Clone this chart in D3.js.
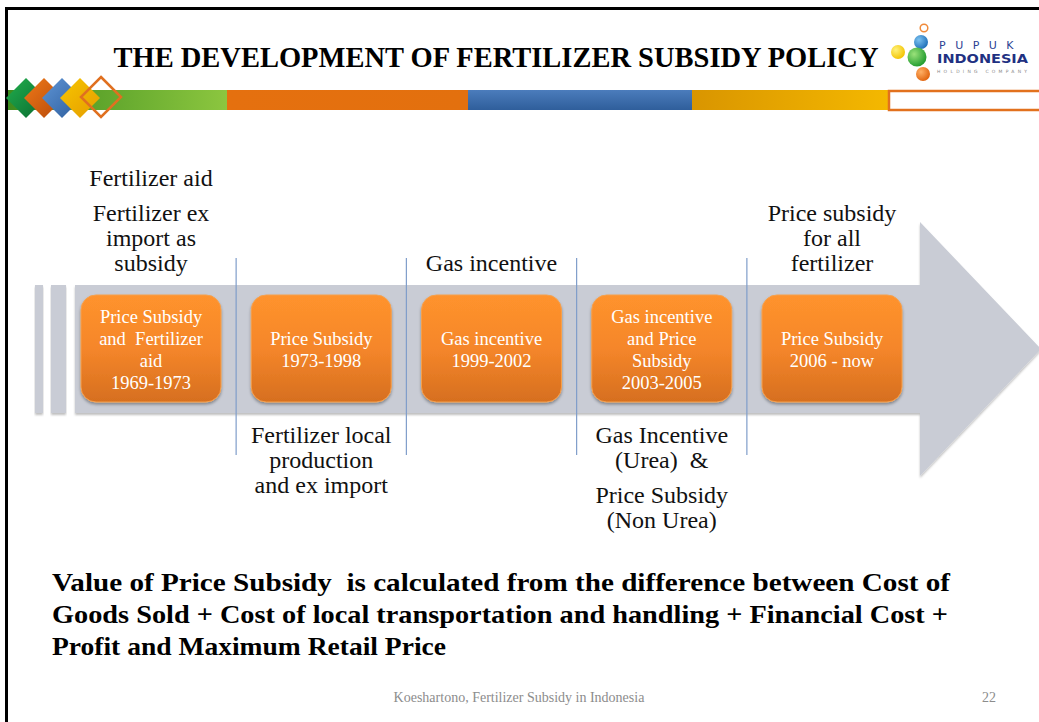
<!DOCTYPE html>
<html>
<head>
<meta charset="utf-8">
<script src="https://cdn.jsdelivr.net/npm/d3@7"></script>
<style>
  body { margin: 0; background: #fff; }
  svg { display: block; }
  text { white-space: pre; }
</style>
</head>
<body>
<div id="slide"></div>
<script>
// ---- content ----
const title = "THE DEVELOPMENT OF FERTILIZER SUBSIDY POLICY";

// one entry per period box, each an array of text lines
const periodLabels = [
  ["Price Subsidy", "and  Fertilizer", "aid", "1969-1973"],
  ["Price Subsidy", "1973-1998"],
  ["Gas incentive", "1999-2002"],
  ["Gas incentive", "and Price", "Subsidy", "2003-2005"],
  ["Price Subsidy", "2006 - now"]
];

// notes above / below each period: paragraphs of lines
const notesAbove = [
  [["Fertilizer aid"], ["Fertilizer ex", "import as", "subsidy"]],
  null,
  [["Gas incentive"]],
  null,
  [["Price subsidy", "for all", "fertilizer"]]
];
const notesBelow = [
  null,
  [["Fertilizer local", "production", "and ex import"]],
  null,
  [["Gas Incentive", "(Urea)  &"], ["Price Subsidy", "(Non Urea)"]],
  null
];

const summaryLines = [
  "Value of Price Subsidy  is calculated from the difference between Cost of",
  "Goods Sold + Cost of local transportation and handling + Financial Cost +",
  "Profit and Maximum Retail Price"
];
const footerText = "Koeshartono, Fertilizer Subsidy in Indonesia";
const pageNumber = "22";

// header decoration
const bandSegments = ["green", "orange", "blue", "yellow"];
const diamondKeys = ["green", "orange", "blue", "yellow"];

// ---- drawing ----
const width = 1039, height = 722;
const serif = "'Liberation Serif', 'DejaVu Serif', serif";

const svg = d3.select("#slide").append("svg")
  .attr("width", width)
  .attr("height", height)
  .attr("font-family", serif);

const defs = svg.append("defs");

function linGrad(id, stops, x2, y2) {
  const g = defs.append("linearGradient").attr("id", id)
    .attr("x1", 0).attr("y1", 0).attr("x2", x2).attr("y2", y2);
  stops.forEach((c, i) => g.append("stop")
    .attr("offset", i / (stops.length - 1)).attr("stop-color", c));
}
linGrad("g-green", ["#3f8d1e", "#8cc63f"], 1, 0);
linGrad("g-orange", ["#e5700f", "#e3700e"], 1, 0);
linGrad("g-blue", ["#4b7cbc", "#2f5e9b"], 0, 1);
linGrad("g-yellow", ["#d99500", "#f4b800"], 1, 0);
linGrad("d-green", ["#22b04e", "#0a6a30"], 1, 1);
linGrad("d-orange", ["#f07a18", "#b6480a"], 1, 1);
linGrad("d-blue", ["#5f95d6", "#2d5d9c"], 1, 1);
linGrad("d-yellow", ["#f7c600", "#e59c00"], 1, 1);
linGrad("box-fill", ["#ff932d", "#f5862a", "#d66f1f"], 0, 1);

function radial(id, light, dark) {
  const g = defs.append("radialGradient").attr("id", id)
    .attr("cx", "35%").attr("cy", "35%").attr("r", "70%");
  g.append("stop").attr("offset", 0).attr("stop-color", light);
  g.append("stop").attr("offset", 1).attr("stop-color", dark);
}
radial("l-yellow", "#fff27a", "#f2c200");
radial("l-blue", "#7cc2f0", "#1e6fb8");
radial("l-green", "#9be27a", "#1f9a2e");
radial("l-orange", "#ffb066", "#e0620c");

const shadow = defs.append("filter").attr("id", "shadow")
  .attr("x", "-10%").attr("y", "-10%").attr("width", "130%").attr("height", "130%");
shadow.append("feDropShadow").attr("dx", 0).attr("dy", 2)
  .attr("stdDeviation", 1.6).attr("flood-color", "#000").attr("flood-opacity", 0.35);

const arrowShadow = defs.append("filter").attr("id", "arrow-shadow")
  .attr("x", "-5%").attr("y", "-5%").attr("width", "110%").attr("height", "115%");
arrowShadow.append("feDropShadow").attr("dx", 0).attr("dy", 2)
  .attr("stdDeviation", 1).attr("flood-color", "#000").attr("flood-opacity", 0.25);

// slide frame
svg.append("path")
  .attr("d", `M6.5,${height} V8.5 H${width}`)
  .attr("fill", "none").attr("stroke", "#000").attr("stroke-width", 3);

// title
svg.append("text")
  .attr("x", 496).attr("y", 67)
  .attr("text-anchor", "middle")
  .attr("font-weight", "bold")
  .attr("font-size", 29)
  .attr("textLength", 765)
  .attr("lengthAdjust", "spacingAndGlyphs")
  .text(title);

// coloured band under the title
const bandX = d3.scaleBand().domain(bandSegments).range([8, 888]);
const bandEdges = { green: [8, 227], orange: [227, 468], blue: [468, 692], yellow: [692, 888] };
svg.append("g").selectAll("rect")
  .data(bandSegments)
  .join("rect")
  .attr("x", d => bandEdges[d][0])
  .attr("width", d => bandEdges[d][1] - bandEdges[d][0])
  .attr("y", 90).attr("height", 20)
  .attr("fill", d => `url(#g-${d})`);

svg.append("rect")
  .attr("x", 889).attr("y", 91).attr("width", 160).attr("height", 19)
  .attr("fill", "#fff").attr("stroke", "#e2711d").attr("stroke-width", 2.5);

// diamonds at the left of the band
const diamondX = d3.scalePoint().domain(diamondKeys).range([26, 80]);
const dh = 20;
const diamondPath = (cx, cy, r) => `M${cx},${cy - r} L${cx + r},${cy} L${cx},${cy + r} L${cx - r},${cy} Z`;
svg.append("g").selectAll("path")
  .data(diamondKeys)
  .join("path")
  .attr("d", d => diamondPath(diamondX(d), 98, dh))
  .attr("fill", d => `url(#d-${d})`);
svg.append("path")
  .attr("d", diamondPath(101, 97, 20))
  .attr("fill", "none").attr("stroke", "#e07020").attr("stroke-width", 2.5);

// logo
const logo = svg.append("g");
logo.append("circle").attr("cx", 924).attr("cy", 28).attr("r", 3.8)
  .attr("fill", "none").attr("stroke", "#f08a3a").attr("stroke-width", 1.5);
logo.append("circle").attr("cx", 898).attr("cy", 52).attr("r", 7).attr("fill", "url(#l-yellow)");
logo.append("circle").attr("cx", 921).attr("cy", 42).attr("r", 7).attr("fill", "url(#l-blue)");
logo.append("circle").attr("cx", 923).attr("cy", 74).attr("r", 7).attr("fill", "url(#l-orange)");
logo.append("circle").attr("cx", 917).attr("cy", 57).attr("r", 9.5).attr("fill", "url(#l-green)");
logo.append("text").attr("x", 939).attr("y", 49)
  .attr("font-family", "'DejaVu Sans', sans-serif").attr("font-size", 11)
  .attr("letter-spacing", 9.5).attr("fill", "#2b3f93").text("PUPUK");
logo.append("text").attr("x", 937).attr("y", 63)
  .attr("font-family", "'DejaVu Sans', sans-serif").attr("font-weight", "bold")
  .attr("font-size", 12).attr("textLength", 91).attr("lengthAdjust", "spacingAndGlyphs")
  .attr("fill", "#1f3182").text("INDONESIA");
logo.append("text").attr("x", 937).attr("y", 73)
  .attr("font-family", "'DejaVu Sans', sans-serif").attr("font-size", 4.5)
  .attr("textLength", 90).attr("fill", "#8a8a8a").text("HOLDING COMPANY");

// timeline arrow
const arrowTop = 285, arrowBottom = 413, headX = 920;
const arrowMid = (arrowTop + arrowBottom) / 2;
svg.append("path")
  .attr("d", `M75,${arrowTop} H${headX} V222 L1041,${arrowMid} L${headX},476 V${arrowBottom} H75 Z`)
  .attr("fill", "#c9ccd5")
  .attr("filter", "url(#arrow-shadow)");
svg.append("g").selectAll("rect")
  .data([[35, 8], [51, 15]])
  .join("rect")
  .attr("x", d => d[0]).attr("width", d => d[1])
  .attr("y", arrowTop).attr("height", arrowBottom - arrowTop)
  .attr("fill", "#c9ccd5")
  .attr("filter", "url(#arrow-shadow)");

// period positions
const x = d3.scalePoint()
  .domain(d3.range(periodLabels.length))
  .range([151, 832]);

// dividers between periods
const dividers = d3.range(periodLabels.length - 1).map(i => (x(i) + x(i + 1)) / 2);
svg.append("g").selectAll("line")
  .data(dividers)
  .join("line")
  .attr("x1", d => d).attr("x2", d => d)
  .attr("y1", 258).attr("y2", 455)
  .attr("stroke", "#7f9dca").attr("stroke-width", 1.2);

// period boxes
const boxW = 140, boxH = 107, boxY = 295, lineH = 22;
const boxes = svg.append("g").selectAll("g")
  .data(periodLabels)
  .join("g")
  .attr("transform", (d, i) => `translate(${x(i)},0)`);
boxes.append("rect")
  .attr("x", -boxW / 2).attr("y", boxY)
  .attr("width", boxW).attr("height", boxH)
  .attr("rx", 15)
  .attr("fill", "url(#box-fill)")
  .attr("stroke", "#f6a04c").attr("stroke-width", 1)
  .attr("filter", "url(#shadow)");
boxes.selectAll("text")
  .data(d => d.map((line, j) => ({ line, j, n: d.length })))
  .join("text")
  .attr("text-anchor", "middle")
  .attr("y", d => 356 + (d.j - (d.n - 1) / 2) * lineH)
  .attr("fill", "#fff")
  .attr("font-size", 18.5)
  .text(d => d.line);

// notes above and below the arrow
const noteSize = 24, noteLine = 25, paraGap = 10;

function flatten(paragraphs) {
  const out = [];
  let offset = 0;
  paragraphs.forEach((para, p) => {
    if (p > 0) offset += paraGap;
    para.forEach((line, j) => {
      out.push({ line, offset });
      offset += noteLine;
    });
  });
  out.forEach(o => o.total = offset - noteLine);
  return out;
}

const above = svg.append("g");
notesAbove.forEach((paras, i) => {
  if (!paras) return;
  above.selectAll(null)
    .data(flatten(paras))
    .join("text")
    .attr("x", x(i))
    .attr("y", d => 271 - d.total + d.offset)
    .attr("text-anchor", "middle")
    .attr("font-size", noteSize)
    .attr("fill", "#111")
    .text(d => d.line);
});

const below = svg.append("g");
notesBelow.forEach((paras, i) => {
  if (!paras) return;
  below.selectAll(null)
    .data(flatten(paras))
    .join("text")
    .attr("x", x(i))
    .attr("y", d => 443 + d.offset)
    .attr("text-anchor", "middle")
    .attr("font-size", noteSize)
    .attr("fill", "#111")
    .text(d => d.line);
});

// summary paragraph
const summaryWidths = [898, 896, 394];
svg.append("g").selectAll("text")
  .data(summaryLines)
  .join("text")
  .attr("x", 52)
  .attr("y", (d, i) => 591 + i * 32)
  .attr("font-weight", "bold")
  .attr("font-size", 25)
  .attr("textLength", (d, i) => summaryWidths[i])
  .attr("lengthAdjust", "spacingAndGlyphs")
  .attr("fill", "#000")
  .text(d => d);

// footer
svg.append("text")
  .attr("x", 519).attr("y", 702)
  .attr("text-anchor", "middle")
  .attr("font-size", 14)
  .attr("fill", "#8c8c8c")
  .text(footerText);
svg.append("text")
  .attr("x", 996).attr("y", 702)
  .attr("text-anchor", "end")
  .attr("font-size", 14)
  .attr("fill", "#8c8c8c")
  .text(pageNumber);
</script>
</body>
</html>
